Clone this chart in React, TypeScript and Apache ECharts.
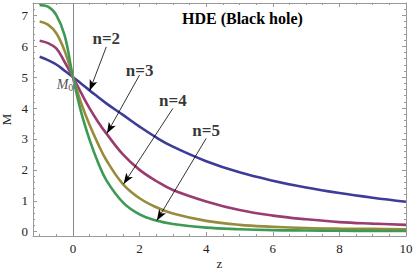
import React, { useEffect, useRef } from 'react';
import * as echarts from 'echarts';

// z grid on which curves were read
const zValues = [-1, -0.75, -0.5, -0.25, 0, 0.25, 0.5, 0.75, 1, 1.5, 2, 2.5, 3, 4, 5, 6, 7, 8, 9, 10];
// M(z) for each n
const mN2 = [5.66, 5.55, 5.41, 5.21, 5.0, 4.79, 4.57, 4.36, 4.15, 3.78, 3.4, 3.05, 2.75, 2.28, 1.92, 1.65, 1.43, 1.25, 1.1, 0.97];
const mN3 = [6.18, 6.1, 5.93, 5.49, 5.0, 4.48, 3.99, 3.56, 3.18, 2.5, 2.0, 1.64, 1.35, 0.98, 0.7, 0.52, 0.4, 0.31, 0.26, 0.22];
const mN4 = [6.8, 6.7, 6.42, 5.85, 5.0, 4.15, 3.45, 2.85, 2.32, 1.54, 1.08, 0.79, 0.59, 0.35, 0.22, 0.16, 0.12, 0.1, 0.09, 0.08];
const mN5 = [7.33, 7.28, 7.01, 6.35, 5.0, 3.85, 2.97, 2.25, 1.67, 0.95, 0.56, 0.36, 0.25, 0.13, 0.08, 0.05, 0.04, 0.03, 0.025, 0.02];
const seriesNames = ['n=2', 'n=3', 'n=4', 'n=5'];
const seriesColors = ['#3d3d99', '#993d71', '#998b3d', '#3d9954'];

// annotation labels and arrows (data coordinates)
const labelText = ['n=2', 'n=3', 'n=4', 'n=5'];
const labelZ = [1.0, 2.0, 3.0, 4.0];
const labelM = [6.24, 5.23, 4.26, 3.26];
const arrowFromZ = [1.0, 2.0, 3.0, 4.0];
const arrowFromM = [5.98, 5.07, 3.99, 3.02];
const arrowToZ = [0.5, 1.02, 1.52, 2.52];
const arrowToM = [4.56, 3.18, 1.54, 0.36];

// M0 label position
const m0Z = -0.24;
const m0M = 4.76;

// ticks
const xTicks = [0, 2, 4, 6, 8, 10];
const xMinorTicks = [-1, -0.5, 0.5, 1, 1.5, 2.5, 3, 3.5, 4.5, 5, 5.5, 6.5, 7, 7.5, 8.5, 9, 9.5];
const yTicks = [0, 1, 2, 3, 4, 5, 6, 7];
const yMinorTicks: number[] = [];
for (let i = 0; i < 7; i++) {
  for (let k = 1; k < 5; k++) yMinorTicks.push(+(i + k * 0.2).toFixed(2));
}
yMinorTicks.push(7.2);

const X_MIN = -1.2;
const X_MAX = 10;
const Y_MIN = -0.14;
const Y_MAX = 7.4;

const FONT = '"Times New Roman", "Liberation Serif", serif';
const FRAME = '#999999';

export default function App() {
  const ref = useRef<HTMLDivElement>(null);
  useEffect(() => {
    if (!ref.current) return;
    const chart = echarts.init(ref.current, undefined, { renderer: 'svg' });

    const xBase = { type: 'value', min: X_MIN, max: X_MAX, splitLine: { show: false } };
    const yBase = { type: 'value', min: Y_MIN, max: Y_MAX, splitLine: { show: false } };

    const mkAxisLine = (show: boolean) => ({ show, onZero: false, lineStyle: { color: FRAME, width: 1 } });
    const mkTick = (vals: number[], len: number) => ({
      show: true,
      inside: true,
      length: len,
      customValues: vals,
      lineStyle: { color: FRAME, width: 1 },
    });

    const curves = [mN2, mN3, mN4, mN5].map((arr, i) => ({
      name: seriesNames[i],
      type: 'line',
      xAxisIndex: 0,
      yAxisIndex: 0,
      data: zValues.map((z, j) => [z, arr[j]]),
      showSymbol: false,
      smooth: 0.4,
      lineStyle: { color: seriesColors[i], width: 2.6 },
      itemStyle: { color: seriesColors[i] },
      z: 3,
      silent: true,
    }));

    const option: any = {
      animation: false,
      textStyle: { fontFamily: FONT },
      title: {
        text: 'HDE (Black hole)',
        left: 177,
        top: 5,
        textStyle: { fontFamily: FONT, fontWeight: 'bold', fontSize: 16, color: '#000' },
      },
      grid: { left: 33, right: 7, top: 3, bottom: 41, containLabel: false, outerBoundsMode: 'none' },
      xAxis: [
        {
          ...xBase,
          position: 'bottom',
          axisLine: mkAxisLine(true),
          axisTick: mkTick(xTicks, 4),
          axisLabel: { customValues: xTicks, fontFamily: FONT, fontSize: 13, color: '#222', margin: 6 },
          name: 'z',
          nameLocation: 'middle',
          nameGap: 21,
          nameMoveOverlap: false,
          nameTextStyle: { fontFamily: FONT, fontSize: 13, color: '#222' },
        },
        { ...xBase, position: 'bottom', axisLine: mkAxisLine(false), axisTick: mkTick(xMinorTicks, 2), axisLabel: { show: false } },
        { ...xBase, position: 'top', axisLine: mkAxisLine(true), axisTick: mkTick(xTicks, 4), axisLabel: { show: false } },
        { ...xBase, position: 'top', axisLine: mkAxisLine(false), axisTick: mkTick(xMinorTicks, 2), axisLabel: { show: false } },
      ],
      yAxis: [
        {
          ...yBase,
          position: 'left',
          axisLine: mkAxisLine(true),
          axisTick: mkTick(yTicks, 4),
          axisLabel: { customValues: yTicks, fontFamily: FONT, fontSize: 13, color: '#222', margin: 5 },
          name: 'M',
          nameLocation: 'middle',
          nameGap: 20,
          nameMoveOverlap: false,
          nameRotate: 90,
          nameTextStyle: { fontFamily: FONT, fontSize: 13, color: '#222' },
        },
        { ...yBase, position: 'left', axisLine: mkAxisLine(false), axisTick: mkTick(yMinorTicks, 2), axisLabel: { show: false } },
        { ...yBase, position: 'right', axisLine: mkAxisLine(true), axisTick: mkTick(yTicks, 4), axisLabel: { show: false } },
        { ...yBase, position: 'right', axisLine: mkAxisLine(false), axisTick: mkTick(yMinorTicks, 2), axisLabel: { show: false } },
      ],
      series: [
        {
          type: 'line',
          data: [],
          xAxisIndex: 0,
          yAxisIndex: 0,
          z: 1,
          silent: true,
          markLine: {
            silent: true,
            symbol: ['none', 'none'],
            label: { show: false },
            lineStyle: { color: '#888', width: 1, type: 'solid' },
            data: [{ xAxis: 0 }],
          },
        },
        ...curves,
        {
          type: 'line',
          data: [],
          xAxisIndex: 0,
          yAxisIndex: 0,
          z: 5,
          silent: true,
          markLine: {
            silent: true,
            symbol: ['none', 'arrow'],
            label: { show: false },
            lineStyle: { color: '#000', width: 0.8, type: 'solid' },
            data: arrowFromZ.map((z, i) => [
              { coord: [z, arrowFromM[i]], symbol: 'none' },
              { coord: [arrowToZ[i], arrowToM[i]], symbol: 'arrow', symbolSize: [6, 11] },
            ]),
          },
        },
        {
          type: 'scatter',
          xAxisIndex: 0,
          yAxisIndex: 0,
          z: 6,
          silent: true,
          symbolSize: 1,
          itemStyle: { color: 'rgba(0,0,0,0)' },
          label: {
            show: true,
            position: 'inside',
            fontFamily: FONT,
            fontWeight: 'bold',
            fontSize: 17,
            color: '#000',
          },
          data: labelZ.map((z, i) => ({ value: [z, labelM[i]], label: { formatter: labelText[i] } })),
        },
        {
          type: 'scatter',
          xAxisIndex: 0,
          yAxisIndex: 0,
          z: 6,
          silent: true,
          symbolSize: 1,
          itemStyle: { color: 'rgba(0,0,0,0)' },
          label: {
            show: true,
            position: 'inside',
            formatter: '{m|M}{s|0}',
            rich: {
              m: { fontFamily: FONT, fontStyle: 'italic', fontSize: 14, color: '#222' },
              s: { fontFamily: FONT, fontSize: 10, color: '#222', verticalAlign: 'bottom', padding: [6, 0, 0, 0] },
            },
          },
          data: [[m0Z, m0M]],
        },
      ],
    };
    chart.setOption(option);
    return () => chart.dispose();
  }, []);
  return <div ref={ref} style={{ position: 'absolute', left: 0, top: 0, width: 413, height: 277 }} />;
}
